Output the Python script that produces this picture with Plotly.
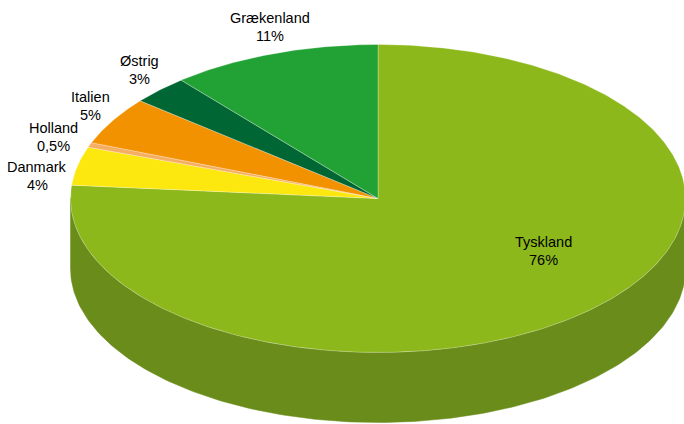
import numpy as np
import plotly.graph_objects as go

# Data (clockwise from 12 o'clock)
countries = ["Tyskland", "Danmark", "Holland", "Italien", "Østrig", "Grækenland"]
shares = [76, 4, 0.5, 5, 3, 11]
top_colors = ["#8DB81B", "#FCE70F", "#F6AE62", "#F39200", "#006633", "#22A235"]
side_colors = ["#6A8C1A", "#C9B60C", "#C4884C", "#C27400", "#004D26", "#1A7D29"]
# label shifts (px) relative to slice anchor; inside flag for the big slice
label_shift = [(62, -4), (-40, 10), (-36, -8), (-22, -15), (-20, -20), (-3, -27)]
label_inside = [True, False, False, False, False, False]

W, H = 684, 424
cx, cy = 378, 198.5
rx, ry = 307.5, 154
depth = 70

def pt(phi_deg, r=1.0):
    p = np.radians(phi_deg)
    return cx + r * rx * np.sin(p), cy - r * ry * np.cos(p)

total = sum(shares)
bounds = np.concatenate([[0], np.cumsum(shares) / total * 360])

fig = go.Figure()

# side walls (visible front half: phi in [90, 270])
for i in range(len(countries)):
    a0, a1 = max(bounds[i], 90), min(bounds[i + 1], 270)
    if a1 <= a0:
        continue
    ph = np.linspace(a0, a1, 200)
    xs, ys = pt(ph)
    X = np.concatenate([xs, xs[::-1], [xs[0]]])
    Y = np.concatenate([ys, ys[::-1] + depth, [ys[0]]])
    fig.add_trace(go.Scatter(x=X, y=Y, mode="lines", fill="toself",
                             fillcolor=side_colors[i],
                             line=dict(color=side_colors[i], width=0.5),
                             hoverinfo="skip", showlegend=False))

# top slices
for i in range(len(countries)):
    a0, a1 = bounds[i], bounds[i + 1]
    n = max(int((a1 - a0) * 2), 4)
    ph = np.linspace(a0, a1, n)
    xs, ys = pt(ph)
    X = np.concatenate([[cx], xs, [cx]])
    Y = np.concatenate([[cy], ys, [cy]])
    fig.add_trace(go.Scatter(x=X, y=Y, mode="lines", fill="toself",
                             fillcolor=top_colors[i],
                             line=dict(color="rgba(255,255,255,0.35)", width=0.8),
                             hoverinfo="skip", showlegend=False))

# labels
annots = []
font = dict(family="Liberation Sans, Arial", size=14.5, color="#000000")
for i, name in enumerate(countries):
    mid = (bounds[i] + bounds[i + 1]) / 2
    r = 0.5 if label_inside[i] else 1.0
    ax_, ay_ = pt(mid, r)
    dx, dy = label_shift[i]
    lx, ly = ax_ + dx, ay_ + dy
    pct = f"{shares[i]:g}".replace(".", ",") + "%"
    annots.append(dict(x=lx, y=ly - 9, text=name, showarrow=False, font=font,
                       xanchor="center", yanchor="middle", xref="x", yref="y"))
    annots.append(dict(x=lx, y=ly + 9, text=pct, showarrow=False, font=font,
                       xanchor="center", yanchor="middle", xref="x", yref="y"))

fig.update_layout(
    width=W, height=H,
    margin=dict(l=0, r=0, t=0, b=0),
    paper_bgcolor="white", plot_bgcolor="white",
    xaxis=dict(range=[0, W], visible=False, fixedrange=True),
    yaxis=dict(range=[H, 0], visible=False, fixedrange=True),
    annotations=annots,
    showlegend=False,
)
fig.write_html("out.html", config={"displayModeBar": False},
               post_script="document.body.style.margin='0';document.body.style.overflow='hidden';")
